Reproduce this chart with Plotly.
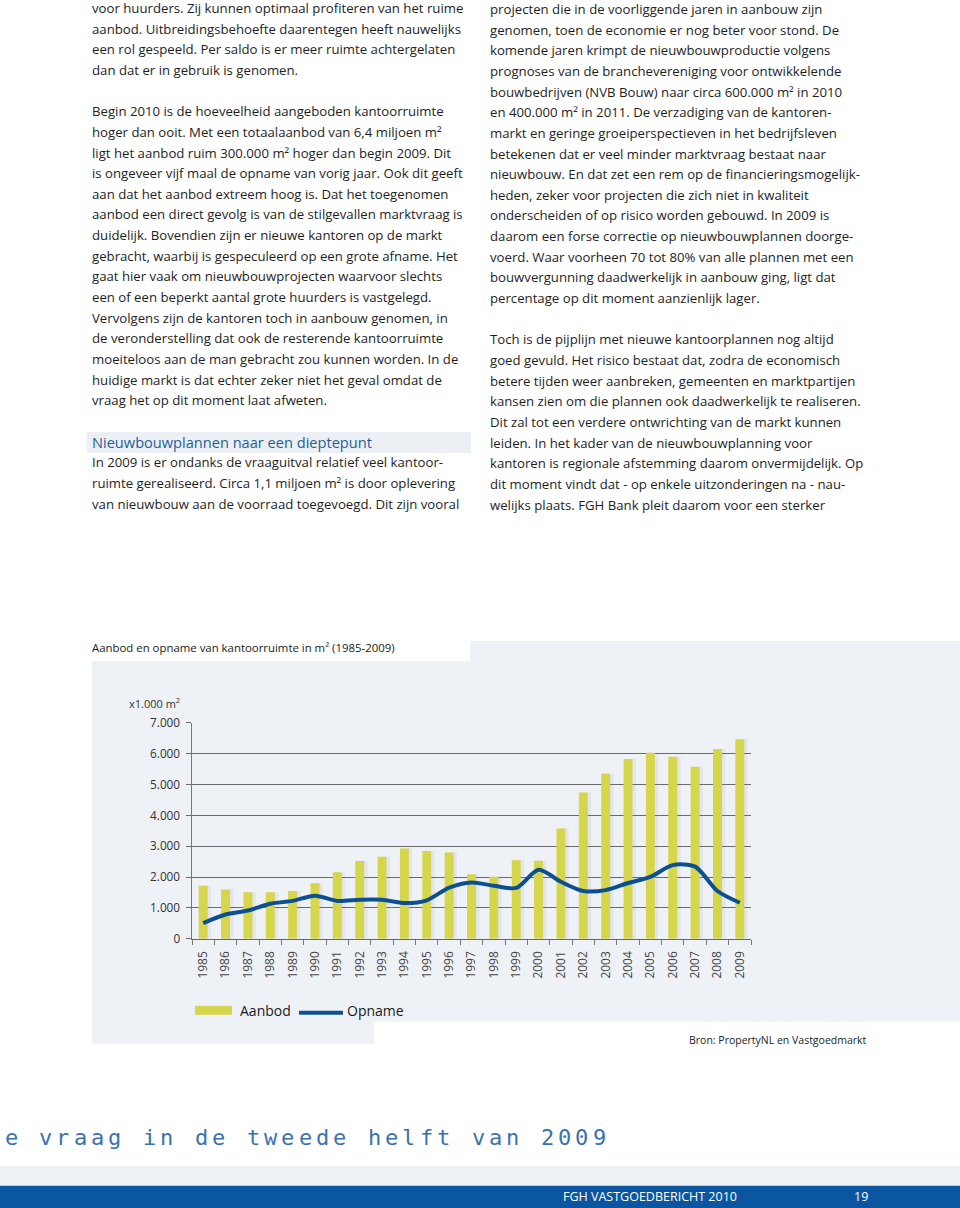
import plotly.graph_objects as go

W, H = 960, 1216

years = [str(y) for y in range(1985, 2010)]
aanbod = [1720, 1600, 1510, 1510, 1550, 1800, 2160, 2520, 2660, 2930, 2850, 2800,
          2090, 2010, 2550, 2530, 3580, 4740, 5350, 5830, 6030, 5900, 5580, 6150, 6470]
opname = [510, 790, 920, 1140, 1230, 1400, 1230, 1270, 1270, 1160, 1250, 1660,
          1830, 1720, 1650, 2240, 1850, 1550, 1580, 1810, 2010, 2390, 2340, 1550, 1170]
ytick_vals = [0, 1000, 2000, 3000, 4000, 5000, 6000, 7000]
ytick_text = ["0", "1.000", "2.000", "3.000", "4.000", "5.000", "6.000", "7.000"]

left_lines = {
    0: "voor huurders. Zij kunnen optimaal profiteren van het ruime",
    1: "aanbod. Uitbreidingsbehoefte daarentegen heeft nauwelijks",
    2: "een rol gespeeld. Per saldo is er meer ruimte achtergelaten",
    3: "dan dat er in gebruik is genomen.",
    5: "Begin 2010 is de hoeveelheid aangeboden kantoorruimte",
    6: "hoger dan ooit. Met een totaalaanbod van 6,4 miljoen m²",
    7: "ligt het aanbod ruim 300.000 m² hoger dan begin 2009. Dit",
    8: "is ongeveer vijf maal de opname van vorig jaar. Ook dit geeft",
    9: "aan dat het aanbod extreem hoog is. Dat het toegenomen",
    10: "aanbod een direct gevolg is van de stilgevallen marktvraag is",
    11: "duidelijk. Bovendien zijn er nieuwe kantoren op de markt",
    12: "gebracht, waarbij is gespeculeerd op een grote afname. Het",
    13: "gaat hier vaak om nieuwbouwprojecten waarvoor slechts",
    14: "een of een beperkt aantal grote huurders is vastgelegd.",
    15: "Vervolgens zijn de kantoren toch in aanbouw genomen, in",
    16: "de veronderstelling dat ook de resterende kantoorruimte",
    17: "moeiteloos aan de man gebracht zou kunnen worden. In de",
    18: "huidige markt is dat echter zeker niet het geval omdat de",
    19: "vraag het op dit moment laat afweten.",
    22: "In 2009 is er ondanks de vraaguitval relatief veel kantoor-",
    23: "ruimte gerealiseerd. Circa 1,1 miljoen m² is door oplevering",
    24: "van nieuwbouw aan de voorraad toegevoegd. Dit zijn vooral",
}
heading = "Nieuwbouwplannen naar een dieptepunt"
right_lines = {
    0: "projecten die in de voorliggende jaren in aanbouw zijn",
    1: "genomen, toen de economie er nog beter voor stond. De",
    2: "komende jaren krimpt de nieuwbouwproductie volgens",
    3: "prognoses van de branchevereniging voor ontwikkelende",
    4: "bouwbedrijven (NVB Bouw) naar circa 600.000 m² in 2010",
    5: "en 400.000 m² in 2011. De verzadiging van de kantoren-",
    6: "markt en geringe groeiperspectieven in het bedrijfsleven",
    7: "betekenen dat er veel minder marktvraag bestaat naar",
    8: "nieuwbouw. En dat zet een rem op de financieringsmogelijk-",
    9: "heden, zeker voor projecten die zich niet in kwaliteit",
    10: "onderscheiden of op risico worden gebouwd. In 2009 is",
    11: "daarom een forse correctie op nieuwbouwplannen doorge-",
    12: "voerd. Waar voorheen 70 tot 80% van alle plannen met een",
    13: "bouwvergunning daadwerkelijk in aanbouw ging, ligt dat",
    14: "percentage op dit moment aanzienlijk lager.",
    16: "Toch is de pijplijn met nieuwe kantoorplannen nog altijd",
    17: "goed gevuld. Het risico bestaat dat, zodra de economisch",
    18: "betere tijden weer aanbreken, gemeenten en marktpartijen",
    19: "kansen zien om die plannen ook daadwerkelijk te realiseren.",
    20: "Dit zal tot een verdere ontwrichting van de markt kunnen",
    21: "leiden. In het kader van de nieuwbouwplanning voor",
    22: "kantoren is regionale afstemming daarom onvermijdelijk. Op",
    23: "dit moment vindt dat - op enkele uitzonderingen na - nau-",
    24: "welijks plaats. FGH Bank pleit daarom voor een sterker",
}
chart_title = "Aanbod en opname van kantoorruimte in m² (1985-2009)"
unit_label = "x1.000 m<sup>2</sup>"
legend_names = ["Aanbod", "Opname"]
source = "Bron: PropertyNL en Vastgoedmarkt"
banner = "e vraag in de tweede helft van 2009"
footer = "FGH VASTGOEDBERICHT 2010"
page_no = "19"

BAR = "#d5d64c"
LINE = "#0d4f93"
PANEL = "#eef1f5"
FONT = "Open Sans"


def px(x):
    return x / W


def py(y):
    yf = (y - 8) / 0.987
    return 1 - yf / H


fig = go.Figure()
fig.add_trace(go.Bar(x=years, y=aanbod, width=0.5, offset=-0.15,
                     marker=dict(color="rgba(110,120,140,0.09)", line=dict(width=0)),
                     showlegend=False, hoverinfo="skip"))
fig.add_trace(go.Bar(x=years, y=aanbod, width=0.4, offset=-0.2,
                     marker=dict(color=BAR, line=dict(width=0)),
                     name=legend_names[0], showlegend=False))
fig.add_trace(go.Scatter(x=years, y=opname, mode="lines",
                         line=dict(color=LINE, width=4, shape="spline", smoothing=0.8),
                         name=legend_names[1], showlegend=False))

shapes = []
# grey chart panel
shapes.append(dict(type="path", xref="paper", yref="paper", layer="below",
                   path="M {a},{b} L {c},{b} L {c},{d} L {e},{d} L {e},{f} L {g},{f} L {g},{h} L {a},{h} Z".format(
                       a=px(92), b=py(660), c=px(470), d=py(640), e=px(960), f=py(1021), g=px(374), h=py(1043)),
                   fillcolor=PANEL, line=dict(width=0)))
# heading box
shapes.append(dict(type="rect", xref="paper", yref="paper", layer="below",
                   x0=px(87), x1=px(471), y0=py(431), y1=py(452),
                   fillcolor="#eceff3", line=dict(width=0)))
# footer bands
shapes.append(dict(type="rect", xref="paper", yref="paper", layer="below",
                   x0=0, x1=1, y0=py(1185), y1=py(1165), fillcolor="#eef1f4", line=dict(width=0)))
shapes.append(dict(type="rect", xref="paper", yref="paper", layer="below",
                   x0=0, x1=1, y0=0, y1=py(1185), fillcolor="#0b56a0", line=dict(width=0)))
# legend swatches
shapes.append(dict(type="rect", xref="paper", yref="paper",
                   x0=px(195), x1=px(232), y0=py(1014), y1=py(1005), fillcolor=BAR, line=dict(width=0)))
shapes.append(dict(type="line", xref="paper", yref="paper",
                   x0=px(299), x1=px(343), y0=py(1012), y1=py(1012), line=dict(color=LINE, width=4)))

ann = []
LS = 20.65
TXT = dict(family=FONT, size=13.2, color="#1e1e1e")
for i, t in left_lines.items():
    ann.append(dict(text=t, x=px(90), y=py(7 + LS * i), xref="paper", yref="paper",
                    xanchor="left", yanchor="middle", showarrow=False, font=TXT))
for i, t in right_lines.items():
    ann.append(dict(text=t, x=px(488), y=py(8 + LS * i), xref="paper", yref="paper",
                    xanchor="left", yanchor="middle", showarrow=False, font=TXT))
ann.append(dict(text=heading, x=px(90), y=py(441), xref="paper", yref="paper",
                xanchor="left", yanchor="middle", showarrow=False,
                font=dict(family=FONT, size=14.6, color="#1d5f9c")))
ann.append(dict(text=chart_title, x=px(90), y=py(647), xref="paper", yref="paper",
                xanchor="left", yanchor="middle", showarrow=False,
                font=dict(family=FONT, size=11.4, color="#1a1a1a")))
ann.append(dict(text=unit_label, x=px(182), y=py(702), xref="paper", yref="paper",
                xanchor="right", yanchor="middle", showarrow=False,
                font=dict(family=FONT, size=11, color="#333")))
ann.append(dict(text=legend_names[0], x=px(238), y=py(1010), xref="paper", yref="paper",
                xanchor="left", yanchor="middle", showarrow=False,
                font=dict(family=FONT, size=14, color="#1a1a1a")))
ann.append(dict(text=legend_names[1], x=px(345), y=py(1010), xref="paper", yref="paper",
                xanchor="left", yanchor="middle", showarrow=False,
                font=dict(family=FONT, size=14, color="#1a1a1a")))
ann.append(dict(text=source, x=px(869), y=py(1039), xref="paper", yref="paper",
                xanchor="right", yanchor="middle", showarrow=False,
                font=dict(family=FONT, size=10.5, color="#222")))
for k, ch in enumerate(banner):
    if ch == " ":
        continue
    ann.append(dict(text=ch, x=px(11 + 17.3 * k), y=py(1137), xref="paper", yref="paper",
                    xanchor="center", yanchor="middle", showarrow=False,
                    font=dict(family="DejaVu Sans Mono", size=22, color="#3a72ad")))
ann.append(dict(text=footer, x=px(650), y=py(1196), xref="paper", yref="paper",
                xanchor="center", yanchor="middle", showarrow=False,
                font=dict(family=FONT, size=12.5, color="white")))
ann.append(dict(text=page_no, x=px(861), y=py(1196), xref="paper", yref="paper",
                xanchor="center", yanchor="middle", showarrow=False,
                font=dict(family=FONT, size=12.5, color="white")))

fig.update_layout(
    width=W, height=H, margin=dict(l=0, r=0, t=0, b=0),
    paper_bgcolor="white", plot_bgcolor="rgba(0,0,0,0)",
    barmode="overlay", showlegend=False,
    shapes=shapes, annotations=ann,
    xaxis=dict(type="category", domain=[px(192), px(751)], range=[-0.5, 24.5],
               tickson="boundaries", ticks="outside", ticklen=5, tickcolor="#777",
               tickangle=-90, ticklabelstandoff=6,
               tickfont=dict(family=FONT, size=12, color="#444"),
               showgrid=False, showline=True, linecolor="#666", linewidth=1.5,
               fixedrange=True),
    yaxis=dict(domain=[py(938), py(722)], range=[0, 7000],
               tickvals=ytick_vals, ticktext=ytick_text,
               ticks="outside", ticklen=5, tickcolor="#666", ticklabelstandoff=3,
               tickfont=dict(family=FONT, size=11.8, color="#333"),
               showgrid=True, gridcolor="#6a6a6a", gridwidth=1, zeroline=False,
               showline=True, linecolor="#777", linewidth=1.5, fixedrange=True),
)

fig.write_html("out.html", config={"displayModeBar": False, "staticPlot": True},
               post_script="document.body.style.margin='0';document.body.style.overflow='hidden';")
